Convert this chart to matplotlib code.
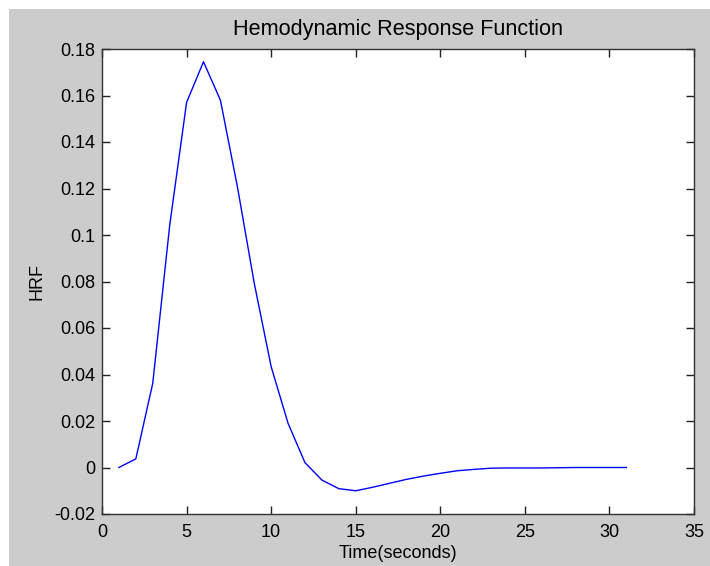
import numpy as np
import matplotlib
matplotlib.use('Agg')
import matplotlib.pyplot as plt
from matplotlib.patches import Rectangle

# time in seconds (TR = 1)
t = np.arange(1, 32)
# hrf values
hrf = [0.0, 0.0037, 0.0362, 0.104, 0.157, 0.1745, 0.158, 0.121, 0.0793, 0.0434,
       0.019, 0.0021, -0.0054, -0.0091, -0.0100, -0.0085, -0.0068, -0.0051,
       -0.0037, -0.0025, -0.0014, -0.0008, -0.0003, -0.0002, -0.0002, -0.0002,
       -0.0001, 0.0, 0.0, 0.0, 0.0]

xticks = [0, 5, 10, 15, 20, 25, 30, 35]
yticks = [-0.02, 0, 0.02, 0.04, 0.06, 0.08, 0.1, 0.12, 0.14, 0.16, 0.18]
yticklabels = ['-0.02', '0', '0.02', '0.04', '0.06', '0.08', '0.1', '0.12', '0.14', '0.16', '0.18']

plt.rcParams['font.family'] = ['Liberation Sans', 'DejaVu Sans']
plt.rcParams['font.size'] = 13

fig = plt.figure(figsize=(7.1, 5.66), dpi=100)
fig.patch.set_facecolor('white')
# matlab grey background, with a thin white strip on the left and top
fig.patches.append(Rectangle((9 / 710, 0), 1 - 9 / 710, 1 - 9 / 566,
                             transform=fig.transFigure, facecolor='#cccccc',
                             edgecolor='none', zorder=-10))

ax = fig.add_axes([102 / 710, 52 / 566, 592 / 710, 465 / 566])
ax.set_facecolor('white')
ax.plot(t, hrf, color='#0000ff', lw=1.0)

ax.set_xlim(0, 35)
ax.set_ylim(-0.02, 0.18)
ax.set_xticks(xticks)
ax.set_xticklabels([str(v) for v in xticks])
ax.set_yticks(yticks)
ax.set_yticklabels(yticklabels)
ax.tick_params(direction='in', length=6, width=1, top=True, right=True,
               colors='#222222', labelcolor='black')
ax.tick_params(axis='x', pad=7)
ax.tick_params(axis='y', pad=5)
for s in ax.spines.values():
    s.set_color('#333333')
    s.set_linewidth(1.0)

ax.set_title('Hemodynamic Response Function', pad=10)
ax.set_xlabel('Time(seconds)', labelpad=3)
ax.set_ylabel('HRF', labelpad=6)

fig.savefig('out.png', dpi=100, facecolor=fig.get_facecolor())
